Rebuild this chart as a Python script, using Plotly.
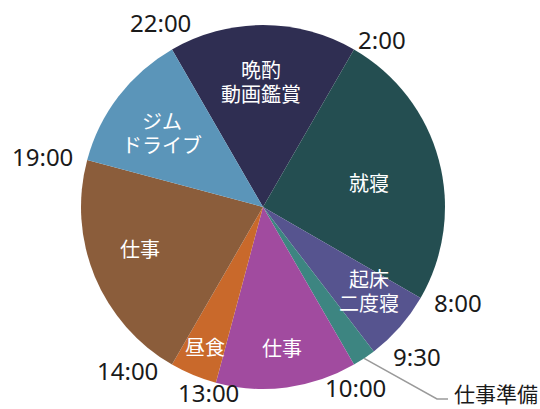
import math
import plotly.graph_objects as go

# data
activities = ["晩酌<br>動画鑑賞", "就寝", "起床<br>二度寝", "仕事準備", "仕事", "昼食", "仕事", "ジム<br>ドライブ"]
hours = [4, 6, 1.5, 0.5, 3, 1, 5, 3]
start_times = ["22:00", "2:00", "8:00", "9:30", "10:00", "13:00", "14:00", "19:00"]
start_hour = 22

# style
colors = ["#2f2e52", "#244e51", "#56548f", "#3d8581", "#a14b9f", "#c9692b", "#8b5d3b", "#5b95b9"]
W, H = 540, 409
CX, CY, R = 263, 207, 182
inner_r = [0.69, 0.60, 0.74, None, 0.78, 0.83, 0.71, 0.69]
inner_da = [-1, 2, -3, 0, 0, 0, 4, -1]
time_da = [0.8, 5.4, -3.8, -8.3, 2.8, 1.5, 9.6, -2.2]
time_r = [211, 205, 217, 215, 203, 193, 212, 226]
LINE_PITCH = 24
JP = "Noto Sans CJK JP"


def to_paper(angle_deg, r):
    a = math.radians(angle_deg)
    px = CX + r * math.sin(a)
    py = CY - r * math.cos(a)
    return px / W, 1 - py / H


keys = [f"{a}#{i}" for i, a in enumerate(activities)]
fig = go.Figure(go.Pie(
    labels=keys, values=hours, sort=False, direction="clockwise",
    rotation=(start_hour % 24) * 15, marker=dict(colors=colors, line=dict(width=0)),
    textinfo="none", hoverinfo="skip", showlegend=False,
    domain=dict(x=[(CX - R) / W, (CX + R) / W], y=[1 - (CY + R) / H, 1 - (CY - R) / H]),
))

annotations = []
shapes = []
total = sum(hours)
cum = 0.0
for i, (name, h) in enumerate(zip(activities, hours)):
    start_angle = (start_hour + cum) * 360 / total
    mid = (start_hour + cum + h / 2) * 360 / total
    # boundary time label
    x, y = to_paper(start_angle + time_da[i], time_r[i])
    annotations.append(dict(x=x, y=y, xref="paper", yref="paper", text=start_times[i], showarrow=False,
                            xanchor="center", yanchor="middle", font=dict(family="Noto Sans", size=24, color="#1a1a1a")))
    if inner_r[i] is not None:
        x, y = to_paper(mid + inner_da[i], inner_r[i] * R)
        lines = name.split("<br>")
        n = len(lines)
        for k, line in enumerate(lines):
            dy = ((n - 1) / 2 - k) * LINE_PITCH / H
            annotations.append(dict(x=x, y=y + dy, xref="paper", yref="paper", text=line, showarrow=False,
                                    xanchor="center", yanchor="middle",
                                    font=dict(family=JP, size=20, color="white")))
    else:
        # leader line label
        x0, y0 = to_paper(mid, R)
        x1, y1 = 437 / W, 1 - 399 / H
        x2 = 448 / W
        shapes.append(dict(type="path", xref="paper", yref="paper",
                           path=f"M {x0},{y0} L {x1},{y1} L {x2},{y1}",
                           line=dict(color="#9a9a9a", width=1.5)))
        annotations.append(dict(x=452 / W, y=1 - 393 / H, xref="paper", yref="paper", text=name,
                                showarrow=False, xanchor="left", yanchor="middle",
                                font=dict(family=JP, size=21, color="#1a1a1a")))
    cum += h

fig.update_layout(width=W, height=H, margin=dict(l=0, r=0, t=0, b=0),
                  paper_bgcolor="white", plot_bgcolor="white",
                  annotations=annotations, shapes=shapes)
fig.write_html("out.html")
